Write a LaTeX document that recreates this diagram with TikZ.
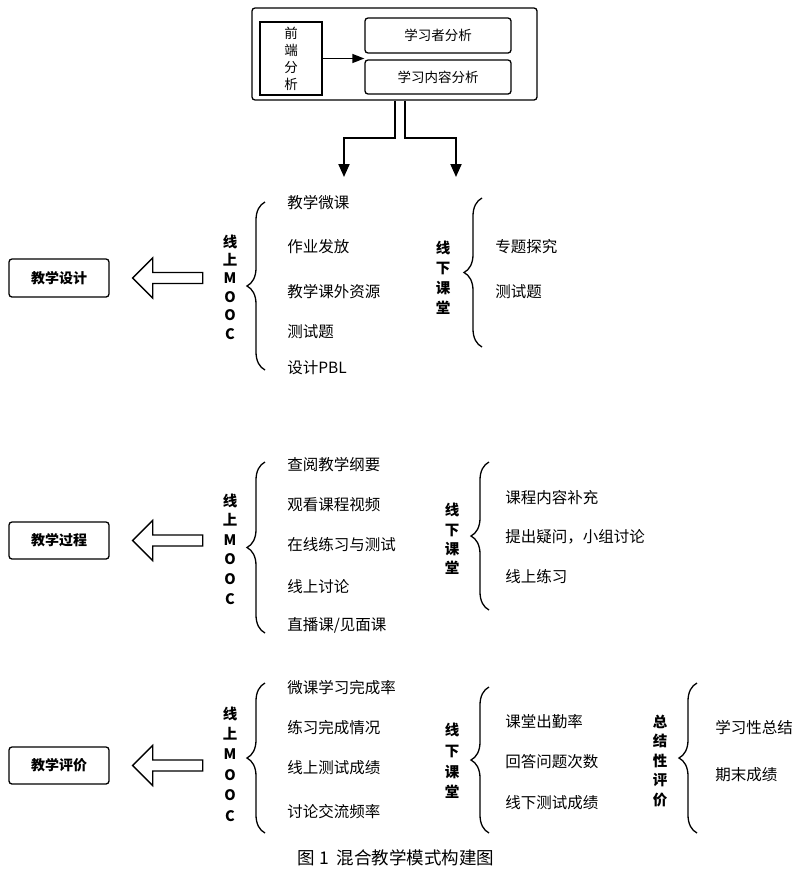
\documentclass[tikz,border=0pt]{standalone}
\usepackage{fontspec}
\setmainfont{Noto Sans CJK SC}
\usetikzlibrary{arrows.meta, positioning, decorations.pathreplacing}

\begin{document}
\begin{tikzpicture}[x=1pt, y=-1pt, thick,
	rbox/.style={draw, line width=1.3pt, rounded corners=3pt, inner sep=0pt},
	sqbox/.style={draw, line width=1.3pt, inner sep=0pt, align=center, font=\fontsize{13.5}{17}\selectfont},
	hollow/.style={draw, line width=1.3pt, fill=white},
	vlabel/.style={align=center, inner sep=0pt},
	item/.style={anchor=west, inner sep=0pt, font=\fontsize{15.5}{18}\selectfont},
	curly/.style={decorate, decoration={brace, amplitude=18pt}, line width=1.3pt},
	stem/.style={line width=2pt, -{Triangle[width=11pt, length=13pt]}}]
	\useasboundingbox (0,0) rectangle (800,876);

	% Draw the front-end analysis block
	\node[rbox, minimum width=285, minimum height=92] (front) at (394.5,54) {};
	\node[sqbox, minimum width=62, minimum height=73] (qd) at (291,58.5) {前\\端\\分\\析};
	\node[rbox, minimum width=146, minimum height=35, font=\fontsize{13.5}{15}\selectfont] (learner) at (438,35.5) {学习者分析};
	\node[rbox, minimum width=146, minimum height=34, font=\fontsize{13.5}{15}\selectfont] (content) at (438,77) {学习内容分析};
	\draw[line width=1.3pt, -{Triangle[width=9pt, length=12pt]}] (qd.east) -- (qd.east -| learner.west);

	% Draw the two stems going down
	\coordinate (onl) at (344,177);
	\coordinate (offl) at (456,177);
	\draw[stem] (front.south) -- ++(0,37) -| (onl);
	\draw[stem] ([xshift=10pt]front.south) -- ++(0,37) -| (offl);

	% Teaching design
	\node[rbox, minimum width=100, minimum height=38, font=\bfseries\fontsize{14}{16}\selectfont] (design) at (59,278) {教学设计};
	\draw[hollow] ([xshift=23pt]design.east) -- ++(20,-20) -- ++(0,14.5) -- ++(50,0) -- ++(0,11) -- ++(-50,0) -- ++(0,14.5) -- cycle;
	\node[vlabel, font=\bfseries\fontsize{14.5}{18.4}\selectfont] (on1) at (230,287) {线\\上\\M\\O\\O\\C};
	\draw[curly] (265,370) -- (265,202);
	\node[item] (d1) at (287,203) {教学微课};
	\node[item] (d2) at (287,247) {作业发放};
	\node[item] (d3) at (287,292) {教学课外资源};
	\node[item] (d4) at (287,332) {测试题};
	\node[item] (d5) at (287,368) {设计PBL};
	\node[vlabel, font=\bfseries\fontsize{14.5}{20}\selectfont] (off1) at (443,278) {线\\下\\课\\堂};
	\draw[curly] (482,347) -- (482,198);
	\node[item] (d6) at (495,247) {专题探究};
	\node[item] (d7) at (495,292) {测试题};

	% Teaching process
	\node[rbox, minimum width=100, minimum height=37, font=\bfseries\fontsize{14}{16}\selectfont] (process) at (59,540.5) {教学过程};
	\draw[hollow] ([xshift=23pt]process.east) -- ++(20,-20) -- ++(0,14.5) -- ++(50,0) -- ++(0,11) -- ++(-50,0) -- ++(0,14.5) -- cycle;
	\node[vlabel, font=\bfseries\fontsize{14.5}{19.6}\selectfont] (on2) at (230,549) {线\\上\\M\\O\\O\\C};
	\draw[curly] (265,633) -- (265,462);
	\node[item] (p1) at (287,465) {查阅教学纲要};
	\node[item] (p2) at (287,505) {观看课程视频};
	\node[item] (p3) at (287,545) {在线练习与测试};
	\node[item] (p4) at (287,587) {线上讨论};
	\node[item] (p5) at (287,625) {直播课/见面课};
	\node[vlabel, font=\bfseries\fontsize{14.5}{19.3}\selectfont] (off2) at (452,539) {线\\下\\课\\堂};
	\draw[curly] (489,610) -- (489,462);
	\node[item] (p6) at (505,498) {课程内容补充};
	\node[item] (p7) at (505,537) {提出疑问，小组讨论};
	\node[item] (p8) at (505,577) {线上练习};

	% Teaching evaluation
	\node[rbox, minimum width=100, minimum height=37, font=\bfseries\fontsize{14}{16}\selectfont] (evaluate) at (59,765.5) {教学评价};
	\draw[hollow] ([xshift=23pt]evaluate.east) -- ++(20,-20) -- ++(0,14.5) -- ++(50,0) -- ++(0,11) -- ++(-50,0) -- ++(0,14.5) -- cycle;
	\node[vlabel, font=\bfseries\fontsize{14.5}{20.4}\selectfont] (on3) at (230,764) {线\\上\\M\\O\\O\\C};
	\draw[curly] (265,833) -- (265,683);
	\node[item] (e1) at (287,688) {微课学习完成率};
	\node[item] (e2) at (287,728) {练习完成情况};
	\node[item] (e3) at (287,768) {线上测试成绩};
	\node[item] (e4) at (287,812) {讨论交流频率};
	\node[vlabel, font=\bfseries\fontsize{14.5}{20.7}\selectfont] (off3) at (452,761) {线\\下\\课\\堂};
	\draw[curly] (489,833) -- (489,687);
	\node[item] (e5) at (505,722) {课堂出勤率};
	\node[item] (e6) at (505,762) {回答问题次数};
	\node[item] (e7) at (505,803) {线下测试成绩};
	\node[vlabel, font=\bfseries\fontsize{14.5}{19.5}\selectfont] (sum) at (660,761) {总\\结\\性\\评\\价};
	\draw[curly] (697,833) -- (697,683);
	\node[item] (e8) at (715,728) {学习性总结};
	\node[item] (e9) at (715,775) {期末成绩};

	% Caption
	\node[font=\fontsize{17.5}{20}\selectfont] (caption) at (396,858) {图 1\ \ 混合教学模式构建图};
\end{tikzpicture}
\end{document}
